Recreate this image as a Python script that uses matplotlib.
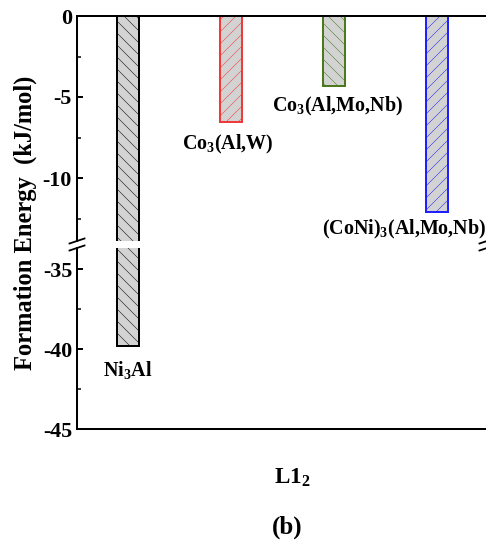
import matplotlib
matplotlib.use("Agg")
import matplotlib.pyplot as plt
from matplotlib.lines import Line2D
from matplotlib.ticker import MultipleLocator

# ---- data ----
categories = ["Ni$_3$Al", "Co$_3$(Al,W)", "Co$_3$(Al,Mo,Nb)", "(CoNi)$_3$(Al,Mo,Nb)"]
energies = [-39.8, -6.55, -4.3, -12.1]
edge_colors = ["#000000", "#f03a3a", "#4a7a1c", "#1f1fff"]
hatches = ["\\\\", "//", "\\\\", "//"]
label_y = [-41.3, -7.95, -5.6, -13.2]
label_x = [0.0, -0.03, 0.03, -0.32]
top_yticks = [0, -5, -10]
bot_yticks = [-35, -40, -45]

plt.rcParams["font.family"] = ["Liberation Serif", "DejaVu Serif"]
plt.rcParams["font.weight"] = "bold"
plt.rcParams["mathtext.fontset"] = "custom"
plt.rcParams["mathtext.rm"] = "Liberation Serif:bold"
plt.rcParams["mathtext.it"] = "Liberation Serif:bold:italic"
plt.rcParams["mathtext.bf"] = "Liberation Serif:bold"
plt.rcParams["mathtext.default"] = "rm"
plt.rcParams["hatch.linewidth"] = 0.5

W, H = 486, 541
fig = plt.figure(figsize=(W / 72, H / 72), dpi=72)

def fx(px):
    return px / W

def fy(py):
    return 1 - py / H

left_px, right_px = 77, 487
top_top, top_bot = 16, 241
bot_top, bot_bot = 248, 429

ax_top = fig.add_axes([fx(left_px), fy(top_bot), (right_px - left_px) / W, (top_bot - top_top) / H])
ax_bot = fig.add_axes([fx(left_px), fy(bot_bot), (right_px - left_px) / W, (bot_bot - bot_top) / H])

x = list(range(len(categories)))
for ax in (ax_top, ax_bot):
    for xi, e, ec, h in zip(x, energies, edge_colors, hatches):
        ax.bar(xi, e, width=0.205, color="#d3d3d3", edgecolor=ec, hatch=h, linewidth=2, zorder=2)
    ax.set_xlim(-0.495, -0.495 + (right_px - left_px) / 103)
    ax.set_xticks([])
    for s in ax.spines.values():
        s.set_linewidth(2)
    ax.tick_params(axis="y", which="major", direction="in", length=6, width=2, labelsize=22, pad=5)
    ax.tick_params(axis="y", which="minor", direction="in", length=3.5, width=1.5)
    ax.yaxis.set_minor_locator(MultipleLocator(2.5))

ax_top.set_ylim(-(top_bot - top_top) / 16.2, 0)
ax_top.set_yticks(top_yticks)
ax_top.set_yticklabels([str(v) for v in top_yticks])
ax_top.spines["bottom"].set_visible(False)

ax_bot.set_ylim(-45, -45 + (bot_bot - bot_top) / 16.0)
ax_bot.set_yticks(bot_yticks)
ax_bot.set_yticklabels([str(v) for v in bot_yticks])
ax_bot.spines["top"].set_visible(False)

for ax in (ax_top, ax_bot):
    for t in ax.get_yticklabels():
        t.set_fontweight("bold")

# bar labels
for i, (cat, ly, lx) in enumerate(zip(categories, label_y, label_x)):
    ax = ax_bot if ly < -30 else ax_top
    ax.text(x[i] + lx, ly, cat, ha="center", va="center", fontsize=20, fontweight="bold", clip_on=False)

# break marks
for sx in (left_px, right_px):
    for sy in (top_bot, bot_top):
        fig.add_artist(Line2D([fx(sx - 7.5), fx(sx + 7.5)], [fy(sy + 2.5), fy(sy - 2.5)],
                              color="black", lw=1.8, transform=fig.transFigure))

fig.text(fx(25), fy(223), "Formation Energy  (kJ/mol)", rotation=90, ha="center", va="center",
         fontsize=24.5, fontweight="bold")
fig.text(fx(292), fy(478), "L1$_2$", ha="center", va="center", fontsize=23, fontweight="bold")
fig.text(fx(287), fy(527), "(b)", ha="center", va="center", fontsize=25, fontweight="bold")

fig.savefig("out.png", dpi=72)
